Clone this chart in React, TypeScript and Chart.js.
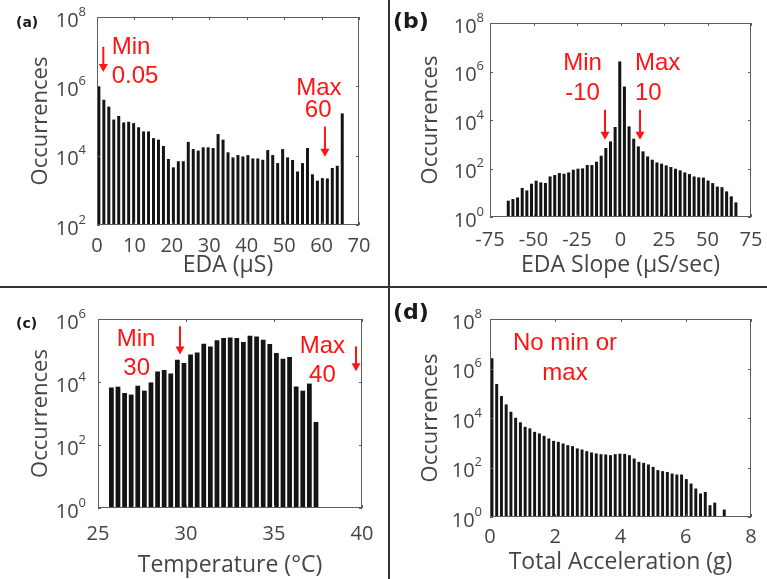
import React, { useEffect, useRef } from 'react';
import { Chart, registerables } from 'chart.js';

Chart.register(...registerables);

const FONT = '"Open Sans", "DejaVu Sans", sans-serif';
const RED_FONT = '"Liberation Sans", Arial, sans-serif';
const TEXT = '#454545';
const AXIS = '#5c5c5c';
const BAR = '#141414';
const RED = '#ff1414';

// ---------- (a) EDA ----------
const edaBinStart = 0.5;
const edaBinWidth = 1.327;
const edaCounts = [
  1.0e6, 4.1e5, 2.6e5, 1.1e5, 1.4e5, 9.1e4, 9.5e4, 8.7e4, 6.6e4, 5.0e4,
  5.0e4, 3.2e4, 2.9e4, 1.9e4, 8.0e3, 4.6e3, 6.9e3, 6.9e3, 2.5e4, 1.55e4,
  1.4e4, 1.74e4, 1.74e4, 1.66e4, 4.2e4, 2.9e4, 1.25e4, 8.9e3, 1.04e4, 9.5e3,
  1.04e4, 8.3e3, 8.3e3, 7.6e3, 1.45e4, 1.04e4, 6.1e3, 1.55e4, 8.9e3, 7.5e3,
  3.5e3, 6.1e3, 1.66e4, 2.9e3, 1.9e3, 2.25e3, 2.2e3, 4.4e3, 5.1e3, 1.66e5,
];

// ---------- (b) EDA slope ----------
const slopeBinStart = -64.5;
const slopeBinWidth = 2.67;
const slopeCounts = [
  4.7, 5.5, 6.4, 15.8, 12.5, 23.6, 31.4, 26.8, 25.2, 47,
  54, 65, 61, 69, 89, 98, 101, 139, 139, 190,
  337, 703, 1310, 5140, 2.6e6,
  2.4e5, 5460, 1690, 815, 508, 315, 230, 178, 158, 134,
  115, 98, 84, 69, 59, 47, 43, 42, 32, 25,
  18, 17, 11.4, 7.1, 4.0,
];

// ---------- (c) Temperature ----------
const tempBinStart = 25.76;
const tempBinWidth = 0.375;
const tempCounts = [
  6700, 7100, 4470, 3980, 7600, 5300, 9700, 2.17e4, 2.4e4, 1.87e4,
  5.1e4, 4.0e4, 7.4e4, 8.7e4, 1.64e5, 1.35e5, 2.1e5, 2.5e5, 2.6e5, 2.5e5,
  1.86e5, 2.95e5, 2.8e5, 2.2e5, 1.6e5, 8.3e4, 5.5e4, 6.2e4, 7200, 5300,
  8900, 540,
];

// ---------- (d) Total acceleration ----------
const accBinStart = 0.06;
const accBinWidth = 0.1453;
const accCounts: (number | null)[] = [
  2.6e6, 2.35e5, 7.7e4, 3.55e4, 1.78e4, 1.02e4, 6700, 4400, 3800, 2760,
  2380, 1900, 1490, 1190, 1090, 935, 800, 730, 590, 535,
  457, 405, 370, 345, 337, 315, 345, 363, 355, 315,
  230, 169, 154, 132, 106, 78, 71, 66, 57, 52,
  52, 34, 22.5, 14.1, 8.9, 10.3, 3.0, 3.8, null, 2.0,
];

// axis titles
const edaTitle = 'EDA (\u03bcS)';
const slopeTitle = 'EDA Slope (\u03bcS/sec)';
const tempTitle = 'Temperature (\u00b0C)';
const accTitle = 'Total Acceleration (g)';
const yTitle = 'Occurrences';

type Note = { text: string; x: number; e: number; align: CanvasTextAlign };
type Arrow = { x: number; eTop: number; eTip: number };

const edaNotes: Note[] = [
  { text: 'Min', x: 3.93, e: 6.93, align: 'left' },
  { text: '0.05', x: 3.93, e: 6.11, align: 'left' },
  { text: 'Max', x: 59.3, e: 5.75, align: 'center' },
  { text: '60', x: 59.1, e: 5.11, align: 'center' },
];
const edaArrows: Arrow[] = [
  { x: 1.68, eTop: 7.14, eTip: 6.41 },
  { x: 60.9, eTop: 4.84, eTip: 3.97 },
];
const slopeNotes: Note[] = [
  { text: 'Min', x: -21.8, e: 6.07, align: 'center' },
  { text: '-10', x: -21.8, e: 4.84, align: 'center' },
  { text: 'Max', x: 8.3, e: 6.07, align: 'left' },
  { text: '10', x: 8.3, e: 4.84, align: 'left' },
];
const slopeArrows: Arrow[] = [
  { x: -8.9, eTop: 4.42, eTip: 3.19 },
  { x: 11.2, eTop: 4.42, eTip: 3.19 },
];
const tempNotes: Note[] = [
  { text: 'Min', x: 27.16, e: 5.13, align: 'center' },
  { text: '30', x: 27.2, e: 4.23, align: 'center' },
  { text: 'Max', x: 37.75, e: 4.92, align: 'center' },
  { text: '40', x: 37.75, e: 3.99, align: 'center' },
];
const tempArrows: Arrow[] = [
  { x: 29.66, eTop: 5.77, eTip: 4.87 },
  { x: 39.66, eTop: 5.13, eTip: 4.34 },
];
const accNotes: Note[] = [
  { text: 'No min or', x: 2.3, e: 6.75, align: 'center' },
  { text: 'max', x: 2.3, e: 5.53, align: 'center' },
];

type Panel = {
  key: string;
  tag: string;
  tagSize: number;
  tagLeft: number;
  tagTop: number;
  pos: { left: number; top: number; width: number; height: number };
  area: { left: number; top: number; right: number; bottom: number };
  binStart: number;
  binWidth: number;
  counts: (number | null)[];
  xMin: number;
  xMax: number;
  xStep: number;
  yMinExp: number;
  yMaxExp: number;
  xTitle: string;
  xTickPad: number;
  xTitlePad: number;
  yLabelGap: number;
  barPct: number;
  notes: Note[];
  arrows: Arrow[];
};

const panels: Panel[] = [
  {
    key: 'a', tag: '(a)', tagSize: 14, tagLeft: 16, tagTop: 15,
    pos: { left: 0, top: 0, width: 388, height: 286 },
    area: { left: 97, top: 17, right: 359, bottom: 225 },
    binStart: edaBinStart, binWidth: edaBinWidth, counts: edaCounts,
    xMin: 0, xMax: 70, xStep: 10, yMinExp: 2, yMaxExp: 8,
    xTitle: edaTitle, xTickPad: 1, xTitlePad: 7, yLabelGap: 11, barPct: 0.6,
    notes: edaNotes, arrows: edaArrows,
  },
  {
    key: 'b', tag: '(b)', tagSize: 22, tagLeft: 393, tagTop: 10,
    pos: { left: 390, top: 0, width: 377, height: 286 },
    area: { left: 100, top: 23, right: 361, bottom: 217 },
    binStart: slopeBinStart, binWidth: slopeBinWidth, counts: slopeCounts,
    xMin: -75, xMax: 75, xStep: 25, yMinExp: 0, yMaxExp: 8,
    xTitle: slopeTitle, xTickPad: 3, xTitlePad: 7, yLabelGap: 6, barPct: 0.65,
    notes: slopeNotes, arrows: slopeArrows,
  },
  {
    key: 'c', tag: '(c)', tagSize: 14, tagLeft: 16, tagTop: 316,
    pos: { left: 0, top: 289, width: 388, height: 290 },
    area: { left: 98, top: 30, right: 362, bottom: 219 },
    binStart: tempBinStart, binWidth: tempBinWidth, counts: tempCounts,
    xMin: 25, xMax: 40, xStep: 5, yMinExp: 0, yMaxExp: 6,
    xTitle: tempTitle, xTickPad: 6, xTitlePad: 0, yLabelGap: 12, barPct: 0.72,
    notes: tempNotes, arrows: tempArrows,
  },
  {
    key: 'd', tag: '(d)', tagSize: 22, tagLeft: 393, tagTop: 301,
    pos: { left: 390, top: 289, width: 377, height: 290 },
    area: { left: 100, top: 30, right: 361, bottom: 228 },
    binStart: accBinStart, binWidth: accBinWidth, counts: accCounts,
    xMin: 0, xMax: 8, xStep: 2, yMinExp: 0, yMaxExp: 8,
    xTitle: accTitle, xTickPad: 0, xTitlePad: 3, yLabelGap: 8, barPct: 0.62,
    notes: accNotes, arrows: [],
  },
];

function decorPlugin(p: Panel) {
  return {
    id: 'decor_' + p.key,
    afterDraw(chart: any) {
      const { ctx, chartArea: a, scales } = chart;
      const xs = scales.x;
      const ys = scales.y;
      ctx.save();
      // box
      ctx.strokeStyle = AXIS;
      ctx.lineWidth = 1;
      ctx.strokeRect(a.left + 0.5, a.top + 0.5, a.right - a.left - 1, a.bottom - a.top - 1);
      // inward ticks
      const tl = 3;
      ctx.beginPath();
      for (const t of xs.ticks) {
        const px = Math.round(xs.getPixelForValue(t.value)) + 0.5;
        ctx.moveTo(px, a.top);
        ctx.lineTo(px, a.top + tl);
        ctx.moveTo(px, a.bottom);
        ctx.lineTo(px, a.bottom - tl);
      }
      for (let e = p.yMinExp; e <= p.yMaxExp; e += 2) {
        const py = Math.round(ys.getPixelForValue(Math.pow(10, e))) + 0.5;
        ctx.moveTo(a.left, py);
        ctx.lineTo(a.left + tl, py);
        ctx.moveTo(a.right, py);
        ctx.lineTo(a.right - tl, py);
      }
      ctx.stroke();
      // y tick labels 10^e
      ctx.fillStyle = TEXT;
      ctx.textBaseline = 'middle';
      ctx.textAlign = 'left';
      for (let e = p.yMinExp; e <= p.yMaxExp; e += 2) {
        const py = ys.getPixelForValue(Math.pow(10, e));
        const exp = String(e);
        ctx.font = `20px ${FONT}`;
        const w1 = ctx.measureText('10').width;
        ctx.font = `13px ${FONT}`;
        const w2 = ctx.measureText(exp).width;
        const right = a.left - p.yLabelGap;
        ctx.font = `20px ${FONT}`;
        ctx.fillText('10', right - w2 - w1, py + 4);
        ctx.font = `13px ${FONT}`;
        ctx.fillText(exp, right - w2, py - 5);
      }
      // annotations
      ctx.fillStyle = RED;
      ctx.strokeStyle = RED;
      ctx.font = `24px ${RED_FONT}`;
      ctx.textBaseline = 'alphabetic';
      for (const n of p.notes) {
        ctx.textAlign = n.align;
        ctx.fillText(n.text, xs.getPixelForValue(n.x), ys.getPixelForValue(Math.pow(10, n.e)));
      }
      for (const ar of p.arrows) {
        const x = xs.getPixelForValue(ar.x);
        const y0 = ys.getPixelForValue(Math.pow(10, ar.eTop));
        const y1 = ys.getPixelForValue(Math.pow(10, ar.eTip));
        const head = 8;
        ctx.lineWidth = 2;
        ctx.beginPath();
        ctx.moveTo(x, y0);
        ctx.lineTo(x, y1 - head + 1);
        ctx.stroke();
        ctx.beginPath();
        ctx.moveTo(x - 4.5, y1 - head);
        ctx.lineTo(x + 4.5, y1 - head);
        ctx.lineTo(x, y1);
        ctx.closePath();
        ctx.fill();
      }
      ctx.restore();
    },
  };
}

function PanelChart({ p }: { p: Panel }) {
  const ref = useRef<HTMLCanvasElement | null>(null);
  useEffect(() => {
    if (!ref.current) return;
    const data = p.counts.map((c, i) => ({ x: p.binStart + i * p.binWidth, y: c }));
    const H = p.pos.height;
    const W = p.pos.width;
    const chart = new Chart(ref.current, {
      type: 'bar',
      data: {
        datasets: [
          {
            data: data as any,
            backgroundColor: BAR,
            borderWidth: 0,
            barPercentage: p.barPct,
            categoryPercentage: 1,
          },
        ],
      },
      options: {
        animation: false,
        responsive: false,
        devicePixelRatio: 1,
        events: [],
        layout: {
          padding: { left: 0, top: p.area.top, right: W - p.area.right, bottom: 0 },
        },
        plugins: { legend: { display: false }, tooltip: { enabled: false } },
        scales: {
          x: {
            type: 'linear',
            min: p.xMin,
            max: p.xMax,
            offset: false,
            grid: { display: false },
            border: { display: false },
            ticks: {
              stepSize: p.xStep,
              autoSkip: false,
              maxRotation: 0,
              padding: p.xTickPad,
              color: TEXT,
              font: { family: FONT, size: 20 },
            },
            title: {
              display: true,
              text: p.xTitle,
              color: TEXT,
              font: { family: FONT, size: 23 },
              padding: { top: 0, bottom: p.xTitlePad },
            },
            afterFit: (s: any) => {
              s.height = H - p.area.bottom;
            },
          },
          y: {
            type: 'logarithmic',
            min: Math.pow(10, p.yMinExp),
            max: Math.pow(10, p.yMaxExp),
            grid: { display: false },
            border: { display: false },
            ticks: { display: false },
            title: {
              display: true,
              text: yTitle,
              color: TEXT,
              font: { family: FONT, size: 22 },
              padding: { top: 28, bottom: 0 },
            },
            afterFit: (s: any) => {
              s.width = p.area.left;
            },
          },
        },
      } as any,
      plugins: [decorPlugin(p)],
    });
    return () => chart.destroy();
  }, [p]);
  return (
    <canvas
      ref={ref}
      width={p.pos.width}
      height={p.pos.height}
      style={{
        position: 'absolute',
        left: p.pos.left,
        top: p.pos.top,
        width: p.pos.width,
        height: p.pos.height,
      }}
    />
  );
}

export default function App() {
  return (
    <div
      style={{
        position: 'absolute',
        left: 0,
        top: 0,
        width: 767,
        height: 579,
        background: '#ffffff',
        overflow: 'hidden',
      }}
    >
      {panels.map((p) => (
        <PanelChart key={p.key} p={p} />
      ))}
      {panels.map((p) => (
        <div
          key={'tag' + p.key}
          style={{
            position: 'absolute',
            left: p.tagLeft,
            top: p.tagTop,
            fontFamily: '"DejaVu Sans", sans-serif',
            fontWeight: 'bold',
            fontSize: p.tagSize,
            lineHeight: 1,
            color: '#1a1a1a',
          }}
        >
          {p.tag}
        </div>
      ))}
      <div style={{ position: 'absolute', left: 388, top: 0, width: 2, height: 579, background: '#333' }} />
      <div style={{ position: 'absolute', left: 0, top: 286, width: 767, height: 2, background: '#333' }} />
    </div>
  );
}
